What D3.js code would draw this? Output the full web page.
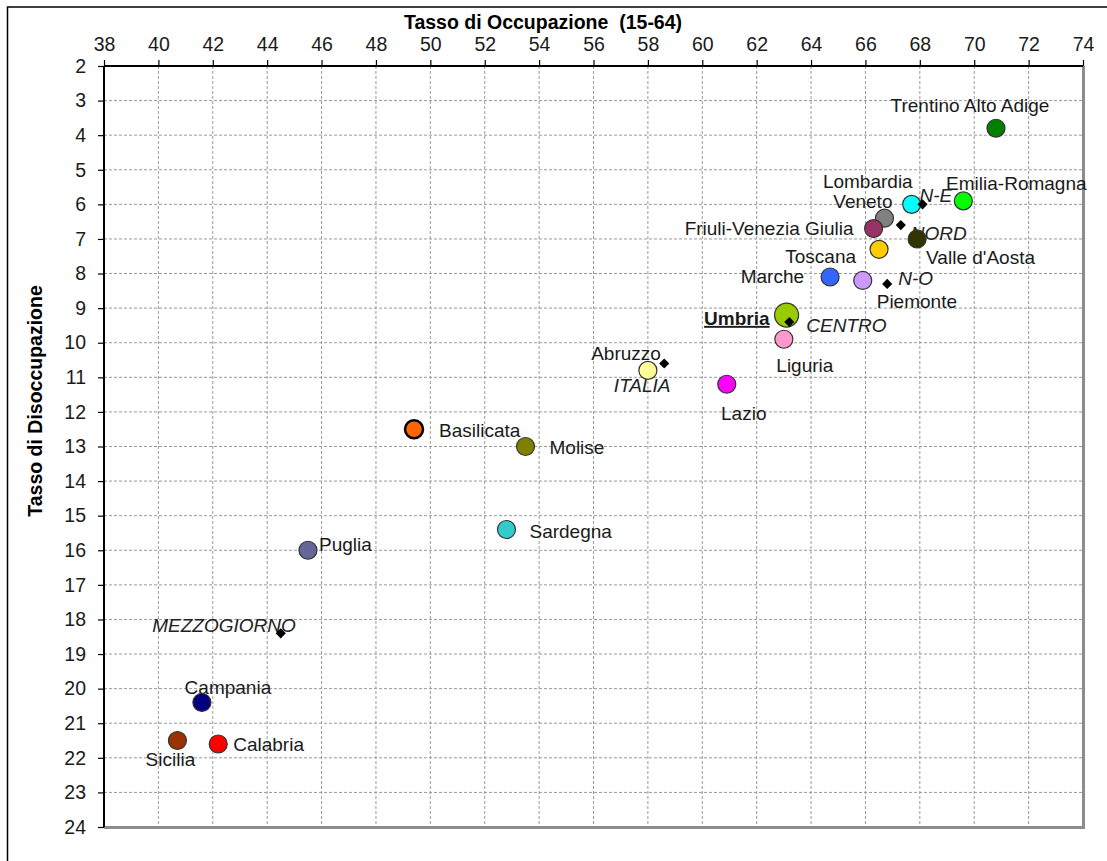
<!DOCTYPE html>
<meta charset="utf-8">
<head>
    <script type="text/javascript" src="https://cdn.jsdelivr.net/npm/d3@7"></script>
    <style>
        body {
            margin: 0;
            background: #fff;
        }
        text {
            font-family: "Liberation Sans", Arial, sans-serif;
        }
        .grid line {
            stroke: #9a9a9a;
            stroke-dasharray: 3,2;
        }
    </style>
</head>

<body>
    <div id="chart"></div>

    <script>
        // data
        let regioni = ["Trentino Alto Adige", "Emilia-Romagna", "Lombardia", "Veneto", "Friuli-Venezia Giulia",
            "Valle d'Aosta", "Toscana", "Marche", "Piemonte", "Umbria", "Liguria", "Abruzzo", "Lazio",
            "Basilicata", "Molise", "Sardegna", "Puglia", "Campania", "Sicilia", "Calabria"]
        let occupazione = [70.8, 69.6, 67.7, 66.7, 66.3, 67.9, 66.5, 64.7, 65.9, 63.1, 63.0, 58.0, 60.9,
            49.4, 53.5, 52.8, 45.5, 41.6, 40.7, 42.2]
        let disoccupazione = [3.8, 5.9, 6.0, 6.4, 6.7, 7.0, 7.3, 8.1, 8.2, 9.2, 9.9, 10.8, 11.2,
            12.5, 13.0, 15.4, 16.0, 20.4, 21.5, 21.6]

        let aree = ["N-E", "NORD", "N-O", "CENTRO", "ITALIA", "MEZZOGIORNO"]
        let areeOccupazione = [68.1, 67.3, 66.8, 63.2, 58.6, 44.5]
        let areeDisoccupazione = [6.0, 6.6, 8.3, 9.4, 10.6, 18.4]

        let xTicks = d3.range(38, 75, 2)
        let yTicks = d3.range(2, 25, 1)

        // styles
        let colori = {
            "Trentino Alto Adige": "#008000", "Emilia-Romagna": "#00ff00", "Lombardia": "#00ffff",
            "Veneto": "#808080", "Friuli-Venezia Giulia": "#993366", "Valle d'Aosta": "#333300",
            "Toscana": "#ffcc00", "Marche": "#3366ff", "Piemonte": "#cc99ff", "Umbria": "#99cc00",
            "Liguria": "#ff99cc", "Abruzzo": "#ffff99", "Lazio": "#ff00ff", "Basilicata": "#ff6600",
            "Molise": "#808000", "Sardegna": "#33cccc", "Puglia": "#666699", "Campania": "#000080",
            "Sicilia": "#993300", "Calabria": "#ff0000"
        }

        // label placement: anchor, dx, dy from the marker centre
        let etichette = {
            "Trentino Alto Adige": ["middle", -26, -23], "Emilia-Romagna": ["middle", 53, -18],
            "Lombardia": ["end", 1, -23], "Veneto": ["end", 8, -17], "Friuli-Venezia Giulia": ["end", -20, 0],
            "Valle d'Aosta": ["start", 9, 18], "Toscana": ["end", -23, 7], "Marche": ["end", -26, -1],
            "Piemonte": ["start", 14, 21], "Umbria": ["end", -17, 3], "Liguria": ["middle", 21, 26],
            "Abruzzo": ["end", 13, -17], "Lazio": ["middle", 17, 29], "Basilicata": ["start", 25, 1],
            "Molise": ["start", 24, 1], "Sardegna": ["start", 23, 2], "Puglia": ["start", 11, -6],
            "Campania": ["middle", 26, -15], "Sicilia": ["middle", -7, 19], "Calabria": ["start", 15, 0],
            "N-E": ["start", -3, -9], "NORD": ["start", 10, 8], "N-O": ["start", 11, -6],
            "CENTRO": ["start", 17, 3], "ITALIA": ["middle", -22, 22], "MEZZOGIORNO": ["end", 15, -8]
        }

        let width = 1107
        let height = 861
        let plot = { left: 104, right: 1083, top: 66, bottom: 827 }

        let svg = d3.select("#chart")
            .append("svg")
            .attr("width", width)
            .attr("height", height)

        // outer frame
        svg.append("rect")
            .attr("x", 7.5).attr("y", 7)
            .attr("width", 1200).attr("height", 1000)
            .attr("fill", "none")
            .attr("stroke", "#000")
            .attr("stroke-width", 1.5)

        let x = d3.scaleLinear().domain([38, 74]).range([plot.left, plot.right])
        let y = d3.scaleLinear().domain([2, 24]).range([plot.top, plot.bottom])

        // grid
        svg.append("g").attr("class", "grid")
            .selectAll("line")
            .data(xTicks.slice(1, -1))
            .enter().append("line")
            .attr("x1", d => x(d)).attr("x2", d => x(d))
            .attr("y1", plot.top).attr("y2", plot.bottom)

        svg.append("g").attr("class", "grid")
            .selectAll("line")
            .data(yTicks.slice(1, -1))
            .enter().append("line")
            .attr("x1", plot.left).attr("x2", plot.right)
            .attr("y1", d => y(d)).attr("y2", d => y(d))

        // plot area border (right and bottom grey)
        svg.append("line")
            .attr("x1", plot.right + 0.5).attr("x2", plot.right + 0.5)
            .attr("y1", plot.top).attr("y2", plot.bottom + 2)
            .attr("stroke", "#8c8c8c").attr("stroke-width", 3)
        svg.append("line")
            .attr("x1", plot.left).attr("x2", plot.right + 2)
            .attr("y1", plot.bottom + 0.5).attr("y2", plot.bottom + 0.5)
            .attr("stroke", "#8c8c8c").attr("stroke-width", 3)

        // axes
        let xAxis = svg.append("g")
            .attr("transform", "translate(0," + plot.top + ")")
            .call(d3.axisTop(x).tickValues(xTicks).tickSize(6).tickPadding(9).tickFormat(d3.format("d")))
        let yAxis = svg.append("g")
            .attr("transform", "translate(" + plot.left + ",0)")
            .call(d3.axisLeft(y).tickValues(yTicks).tickSize(6).tickPadding(12).tickFormat(d3.format("d")))

        for (let ax of [xAxis, yAxis]) {
            ax.select(".domain").attr("stroke", "#000").attr("stroke-width", 2)
            ax.selectAll(".tick line").attr("stroke", "#000").attr("stroke-width", 1.2)
            ax.selectAll(".tick text")
                .attr("font-size", 19.5)
                .attr("fill", "#1a1a1a")
                .style("font-family", "'Liberation Sans', Arial, sans-serif")
        }
        xAxis.select(".domain").attr("d", "M" + plot.left + ",0H" + plot.right)
        yAxis.select(".domain").attr("d", "M0," + plot.top + "V" + plot.bottom)

        // axis titles
        svg.append("text")
            .attr("x", 543).attr("y", 29)
            .attr("text-anchor", "middle")
            .attr("font-size", 19.5)
            .attr("font-weight", "bold")
            .style("white-space", "pre")
            .text("Tasso di Occupazione  (15-64)")

        svg.append("text")
            .attr("transform", "translate(42,401) rotate(-90)")
            .attr("text-anchor", "middle")
            .attr("font-size", 19.5)
            .attr("font-weight", "bold")
            .text("Tasso di Disoccupazione")

        // labels
        let regData = regioni.map((r, i) => ({ nome: r, occ: occupazione[i], dis: disoccupazione[i] }))
        let areaData = aree.map((a, i) => ({ nome: a, occ: areeOccupazione[i], dis: areeDisoccupazione[i] }))

        let lab = svg.append("g")
        lab.selectAll("text.reg")
            .data(regData)
            .enter().append("text")
            .attr("class", "reg")
            .attr("x", d => x(d.occ) + etichette[d.nome][1])
            .attr("y", d => y(d.dis) + etichette[d.nome][2])
            .attr("dy", "0.36em")
            .attr("text-anchor", d => etichette[d.nome][0])
            .attr("font-size", 19)
            .attr("fill", "#1a1a1a")
            .attr("font-weight", d => d.nome === "Umbria" ? "bold" : "normal")
            .attr("text-decoration", d => d.nome === "Umbria" ? "underline" : "none")
            .text(d => d.nome)

        lab.selectAll("text.area")
            .data(areaData)
            .enter().append("text")
            .attr("class", "area")
            .attr("x", d => x(d.occ) + etichette[d.nome][1])
            .attr("y", d => y(d.dis) + etichette[d.nome][2])
            .attr("dy", "0.36em")
            .attr("text-anchor", d => etichette[d.nome][0])
            .attr("font-size", 19)
            .attr("font-style", "italic")
            .attr("fill", "#222")
            .text(d => d.nome)

        // regions
        svg.append("g")
            .selectAll("circle")
            .data(regData)
            .enter().append("circle")
            .attr("cx", d => x(d.occ))
            .attr("cy", d => y(d.dis))
            .attr("r", d => d.nome === "Umbria" ? 12 : 9)
            .attr("fill", d => colori[d.nome])
            .attr("stroke", d => d.nome === "Basilicata" ? "#000" : "#333")
            .attr("stroke-width", d => d.nome === "Basilicata" ? 2.5 : 1.2)

        // areas (diamonds)
        svg.append("g")
            .selectAll("path")
            .data(areaData)
            .enter().append("path")
            .attr("d", d3.symbol().type(d3.symbolDiamond2).size(66))
            .attr("transform", d => "translate(" + x(d.occ) + "," + y(d.dis) + ")")
            .attr("fill", "#000")
    </script>
</body>
</html>
